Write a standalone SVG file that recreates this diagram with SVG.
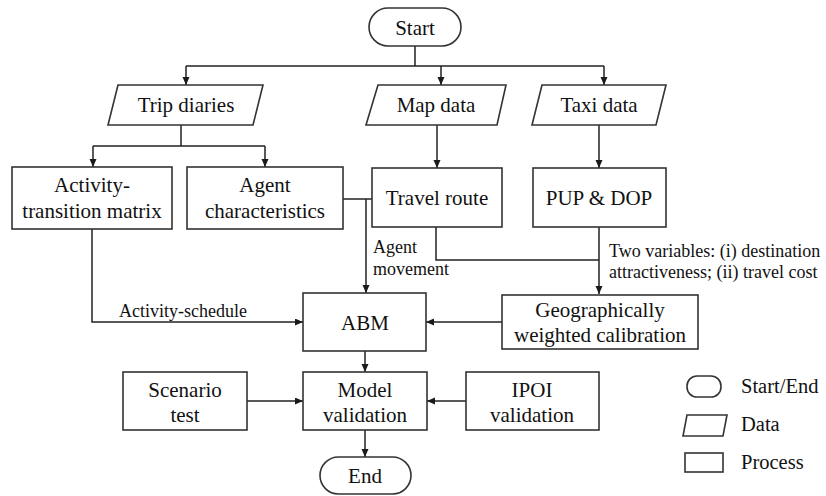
<svg xmlns="http://www.w3.org/2000/svg" width="826" height="496" viewBox="0 0 826 496">
<defs>
<marker id="ah" markerUnits="userSpaceOnUse" markerWidth="9" markerHeight="8" refX="8" refY="3.5" orient="auto">
<path d="M0,0 L8,3.5 L0,7 z" fill="#1a1a1a"/>
</marker>
<style>
.shape{fill:#fff;stroke:#333;stroke-width:1.6}
.t{font-family:"Liberation Serif","Times New Roman",serif;font-size:21px;fill:#111;text-anchor:middle}
.lbl{font-family:"Liberation Serif","Times New Roman",serif;font-size:18px;fill:#111}
.lg{font-family:"Liberation Serif","Times New Roman",serif;font-size:20.5px;fill:#111}
.c{fill:none;stroke:#222;stroke-width:1.5}
.a{marker-end:url(#ah)}
</style>
</defs>
<rect width="826" height="496" fill="#fff"/>
<g id="connectors">
<path class="c" d="M415,46 V66 M186,66 H604"/>
<path class="c a" d="M186,66 V85"/>
<path class="c a" d="M441,66 V85"/>
<path class="c a" d="M604,66 V85"/>
<path class="c" d="M181,125 V146 M93,146 H265"/>
<path class="c a" d="M93,146 V167"/>
<path class="c a" d="M265,146 V167"/>
<path class="c a" d="M437,125 V168"/>
<path class="c a" d="M599,125 V168"/>
<path class="c" d="M343,199 H372"/>
<path class="c a" d="M366,199 V293"/>
<path class="c" d="M436,227 V260 H599"/>
<path class="c a" d="M599,227 V294"/>
<path class="c a" d="M92,229 V322 H303"/>
<path class="c a" d="M502,322 H426"/>
<path class="c a" d="M365,351 V372"/>
<path class="c a" d="M247,401 H303"/>
<path class="c a" d="M466,401 H427"/>
<path class="c a" d="M365,430 V457"/>
<text class="lbl" x="373" y="253">Agent</text>
<text class="lbl" x="373" y="275">movement</text>
<text class="lbl" x="609" y="257">Two variables: (i) destination</text>
<text class="lbl" x="609" y="278">attractiveness; (ii) travel cost</text>
<text class="lbl" x="119" y="317">Activity-schedule</text>
</g>
<g id="start">
<rect class="shape" x="369" y="8" width="92" height="38" rx="19"/>
<text class="t" x="415" y="35">Start</text>
</g>
<g id="trip-diaries">
<polygon class="shape" points="118,85 263,85 253,125 108,125"/>
<text class="t" x="186" y="112">Trip diaries</text>
</g>
<g id="map-data">
<polygon class="shape" points="378,85 506,85 497,125 366,125"/>
<text class="t" x="436" y="112">Map data</text>
</g>
<g id="taxi-data">
<polygon class="shape" points="542,85 666,85 656,125 532,125"/>
<text class="t" x="599" y="112">Taxi data</text>
</g>
<g id="activity-transition">
<rect class="shape" x="12" y="167" width="160" height="62"/>
<text class="t" x="92" y="192">Activity-</text>
<text class="t" x="92" y="218">transition matrix</text>
</g>
<g id="agent-characteristics">
<rect class="shape" x="187" y="167" width="156" height="62"/>
<text class="t" x="265" y="192">Agent</text>
<text class="t" x="265" y="218">characteristics</text>
</g>
<g id="travel-route">
<rect class="shape" x="372" y="168" width="130" height="59"/>
<text class="t" x="437" y="205">Travel route</text>
</g>
<g id="pup-dop">
<rect class="shape" x="533" y="168" width="133" height="59"/>
<text class="t" x="599" y="205">PUP &amp; DOP</text>
</g>
<g id="abm">
<rect class="shape" x="303" y="293" width="123" height="58"/>
<text class="t" x="365" y="330">ABM</text>
</g>
<g id="gw-calibration">
<rect class="shape" x="502" y="295" width="196" height="54"/>
<text class="t" x="600" y="317">Geographically</text>
<text class="t" x="600" y="342">weighted calibration</text>
</g>
<g id="scenario-test">
<rect class="shape" x="123" y="372" width="124" height="58"/>
<text class="t" x="185" y="397">Scenario</text>
<text class="t" x="185" y="422">test</text>
</g>
<g id="model-validation">
<rect class="shape" x="303" y="372" width="124" height="58"/>
<text class="t" x="365" y="397">Model</text>
<text class="t" x="365" y="422">validation</text>
</g>
<g id="ipoi-validation">
<rect class="shape" x="466" y="372" width="133" height="58"/>
<text class="t" x="532" y="397">IPOI</text>
<text class="t" x="532" y="422">validation</text>
</g>
<g id="end">
<rect class="shape" x="320" y="457" width="91" height="37" rx="18.5"/>
<text class="t" x="365" y="483">End</text>
</g>
<g id="legend">
<rect class="shape" x="687" y="376" width="34" height="21" rx="10"/>
<text class="lg" x="741" y="393">Start/End</text>
<polygon class="shape" points="687,415 727,415 723,436 683,436"/>
<text class="lg" x="741" y="431">Data</text>
<rect class="shape" x="685" y="453" width="38" height="19"/>
<text class="lg" x="741" y="469">Process</text>
</g>
</svg>
